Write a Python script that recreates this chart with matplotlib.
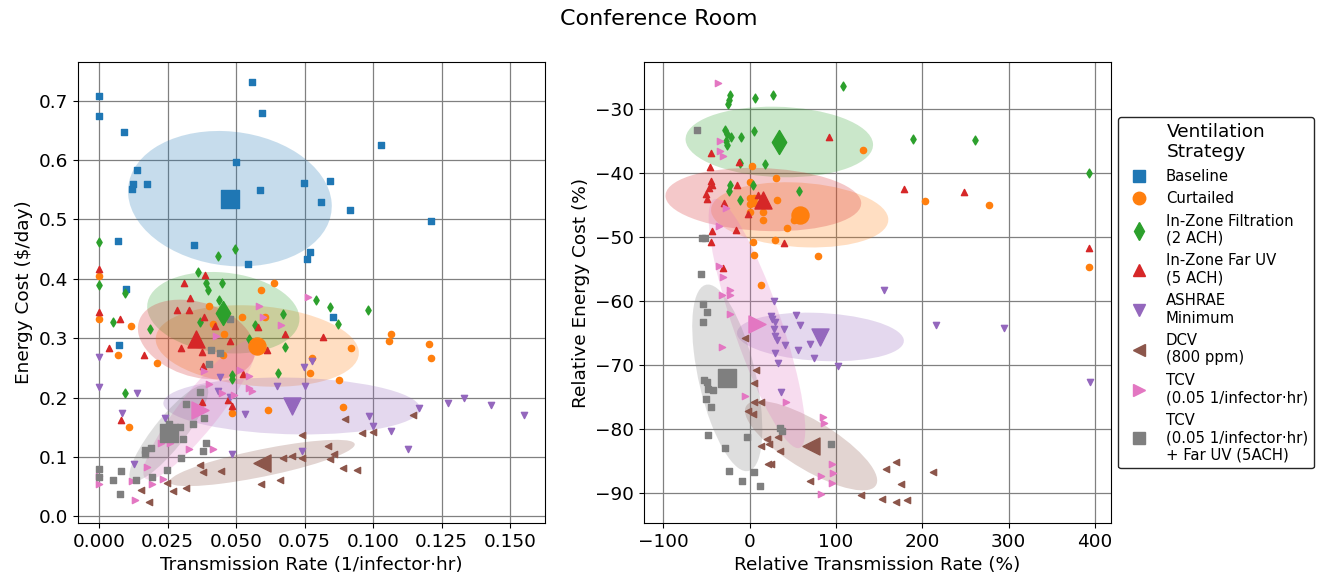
import numpy as np
import matplotlib
matplotlib.use("Agg")
import matplotlib.pyplot as plt
import matplotlib.transforms as transforms
from matplotlib.patches import Ellipse
from matplotlib.lines import Line2D

plt.rcParams["font.family"] = ["DejaVu Sans"]
plt.rcParams["font.size"] = 13.3

# series names / styles
labels = ["Baseline", "Curtailed", "In-Zone Filtration\n(2 ACH)", "In-Zone Far UV\n(5 ACH)",
          "ASHRAE\nMinimum", "DCV\n(800 ppm)", "TCV\n(0.05 1/infector\u00b7hr)",
          "TCV\n(0.05 1/infector\u00b7hr)\n+ Far UV (5ACH)"]
markers = ["s", "o", "d", "^", "v", "<", ">", "s"]
colors = ["tab:blue", "tab:orange", "tab:green", "tab:red", "tab:purple",
          "tab:brown", "tab:pink", "tab:gray"]

# ---- left panel: transmission rate vs energy cost ----
base_x = [0, 0, 0.0089, 0.0556, 0.0593, 0.1027, 0.0498, 0.0138, 0.0122, 0.0118, 0.0173, 0.0588, 0.0747,
          0.0841, 0.0808, 0.0914, 0.121, 0.0067, 0.0346, 0.0544, 0.0769, 0.0760, 0.0099, 0.0854, 0.0072]
base_y = [0.708, 0.675, 0.647, 0.731, 0.679, 0.625, 0.597, 0.583, 0.560, 0.552, 0.559, 0.550, 0.561,
          0.564, 0.529, 0.516, 0.498, 0.464, 0.457, 0.425, 0.446, 0.434, 0.383, 0.335, 0.288]
curt_x = [0, 0, 0.0637, 0.0592, 0.04, 0.0522, 0.0605, 0.0115, 0.0415, 0.0455, 0.1064, 0.1059, 0.1204,
          0.0919, 0.121, 0.0067, 0.0451, 0.0212, 0.0777, 0.0769, 0.0875, 0.0889, 0.0616, 0.0484, 0.0109]
curt_y = [0.405, 0.333, 0.393, 0.381, 0.355, 0.336, 0.336, 0.320, 0.324, 0.308, 0.308, 0.296, 0.290,
          0.284, 0.267, 0.272, 0.271, 0.259, 0.266, 0.241, 0.229, 0.185, 0.180, 0.174, 0.151]
filt_x = [0, 0.0497, 0.0433, 0.036, 0, 0.039, 0.0448, 0.0093, 0.0398, 0.0437, 0.0792, 0.0844, 0.0983,
          0.067, 0.0049, 0.0367, 0.057, 0.087, 0.0185, 0.0545, 0.0678, 0.0652, 0.0483, 0.0483, 0.0093]
filt_y = [0.462, 0.450, 0.438, 0.412, 0.389, 0.393, 0.393, 0.376, 0.381, 0.365, 0.365, 0.352, 0.347,
          0.341, 0.328, 0.328, 0.322, 0.324, 0.316, 0.298, 0.285, 0.241, 0.238, 0.231, 0.208]
uv_x = [0, 0, 0.0385, 0.0309, 0.0332, 0.0285, 0.0326, 0.0384, 0.0074, 0.0422, 0.058, 0.068, 0.0817,
        0.0478, 0.0035, 0.03, 0.0612, 0.0375, 0.0165, 0.0378, 0.0524, 0.0374, 0.0471, 0.0483, 0.0078]
uv_y = [0.417, 0.345, 0.406, 0.393, 0.367, 0.348, 0.348, 0.336, 0.332, 0.320, 0.319, 0.307, 0.302,
        0.296, 0.283, 0.283, 0.280, 0.277, 0.271, 0.254, 0.240, 0.193, 0.196, 0.186, 0.163]
ash_x = [0, 0, 0.0748, 0.0776, 0.0442, 0.0649, 0.0751, 0.0434, 0.0138, 0.0476, 0.0083, 0.0533, 0.0239,
         0.1166, 0.1273, 0.1332, 0.143, 0.1551, 0.0984, 0.1, 0.1067, 0.1126, 0.0486, 0.0742, 0.0126]
ash_y = [0.269, 0.218, 0.251, 0.261, 0.234, 0.220, 0.220, 0.211, 0.208, 0.201, 0.174, 0.173, 0.165,
         0.183, 0.191, 0.199, 0.188, 0.171, 0.169, 0.153, 0.144, 0.113, 0.105, 0.110, 0.089]
dcv_x = [0.0898, 0.1146, 0.0958, 0.0999, 0.0739, 0.0834, 0.0858, 0.0672, 0.0704, 0.0742, 0.0844, 0.089,
         0.0942, 0.0368, 0.0378, 0.0443, 0.0659, 0.0589, 0.0248, 0.0317, 0.0271, 0.0151, 0.018]
dcv_y = [0.164, 0.170, 0.140, 0.142, 0.137, 0.118, 0.105, 0.099, 0.101, 0.099, 0.097, 0.081,
         0.079, 0.086, 0.074, 0.077, 0.062, 0.054, 0.057, 0.048, 0.043, 0.045, 0.025]
tcv_x = [0.0764, 0.0582, 0.0598, 0.0662, 0.0425, 0.0382, 0.0514, 0.0545, 0.04, 0.0545, 0.0559, 0.0449,
         0.0493, 0.0226, 0.0259, 0.0328, 0.0417, 0.0174, 0, 0, 0.0118, 0.0191, 0.0233, 0.0132]
tcv_y = [0.369, 0.354, 0.335, 0.323, 0.304, 0.245, 0.246, 0.236, 0.223, 0.217, 0.212, 0.208,
         0.204, 0.123, 0.123, 0.114, 0.114, 0.084, 0.068, 0.055, 0.059, 0.055, 0.063, 0.028]
tuv_x = [0.0477, 0.0407, 0.0442, 0.0401, 0.0368, 0.0317, 0.0383, 0.0344, 0.0255, 0.0295, 0.0307, 0.0391,
         0.0378, 0.0298, 0.0188, 0.0166, 0.0166, 0.0079, 0, 0, 0.005, 0.0133, 0.0191, 0.0248, 0.0076]
tuv_y = [0.333, 0.281, 0.276, 0.257, 0.209, 0.190, 0.166, 0.155, 0.156, 0.151, 0.130, 0.123,
         0.110, 0.099, 0.115, 0.112, 0.105, 0.077, 0.080, 0.066, 0.062, 0.062, 0.067, 0.078, 0.038]

# means and spread ellipses (half extents + correlation)
mean_x = [0.0477, 0.0577, 0.0453, 0.0355, 0.0703, 0.0595, 0.0368, 0.0254]
mean_y = [0.535, 0.287, 0.343, 0.298, 0.186, 0.090, 0.180, 0.140]
ell_dx = [0.0372, 0.0371, 0.0278, 0.0214, 0.0469, 0.0338, 0.0207, 0.0144]
ell_dy = [0.114, 0.0686, 0.0686, 0.067, 0.0479, 0.039, 0.118, 0.081]
ell_rho = [-0.11, -0.17, -0.15, -0.28, -0.10, 0.80, 0.90, 0.87]

# ---- right panel: relative to baseline (%) ----
curt_rx = [131.6, 3.1, 30.6, 0, 0.4, 4.6, 31.3, 0.8, 4.6, 202.8, 277.1, 0.8, 15.1, 15.1, 51.1, 43.3,
           3.5, 29.8, 4.6, 79.3, 393.6, 13.5]
curt_ry = [-36.4, -38.9, -40.7, -41.4, -43.8, -43.8, -44.1, -44.8, -44.7, -44.4, -44.9, -46.0, -46.1,
           -47.3, -47.3, -48.5, -50.8, -50.5, -52.8, -53.0, -54.7, -57.5]
filt_rx = [-23.2, -24.4, -25.5, 6.2, 27.5, 108.7, -28.6, -26.3, -21.3, -10.4, 4.6, -27.9, -26.3, 189.6,
           260.8, -10.8, 17.4, 393.2, -22.8, 4.3, -24, 56.9, -11.2]
filt_ry = [-27.7, -28.5, -29.2, -28.3, -27.7, -26.3, -33.3, -33.8, -34.3, -34.3, -33.4, -35.0, -35.6,
           -34.7, -34.8, -38.4, -38.5, -39.9, -41.8, -41.9, -42.8, -42.7, -44.2]
uv_rx = [92.1, -44.5, -46.4, -12.8, -44.5, -43.3, -47.6, -15.1, -50.3, -49.5, 9.3, 179.2, 248.5, -30.2,
         -2.3, -43.3, -15.9, -45.3, 39.5, 392.8, -31]
uv_ry = [-34.4, -36.8, -39.0, -38.2, -41.2, -41.8, -42.3, -41.9, -43.3, -44.0, -43.4, -42.4, -42.9,
         -44.6, -46.4, -49.0, -48.8, -50.8, -50.9, -51.7, -54.8]
ash_rx = [156, 27.9, 24.8, 26.3, 29.8, 53.8, 58, 27.9, 39.9, 216.3, 294.5, 29, 31.7, 40.6, 56.1, 70.4,
          29.8, 74.7, 102.2, 32.5, 394.3, 36.8]
ash_ry = [-58.2, -59.9, -62.3, -62.8, -63.2, -62.1, -63.75, -64.4, -64.3, -63.7, -64.2, -65.5, -66.1,
          -66.8, -67.7, -66.7, -68.1, -68.9, -70.1, -69.7, -72.6, -74.2]
dcv_rx = [-5, 7.4, 5.4, 5, 13.2, -2.3, 3.9, 20.1, 22.8, 32.9, 13.2, 35.6, 25.2, 21.3, 169.1, 157.5,
          212.8, 70.4, 175.7, 129.3, 153.6, 169.5, 181.9]
dcv_ry = [-65.8, -70.8, -72.8, -75.7, -75.8, -77.2, -77.6, -81.5, -82.3, -81.2, -82.6, -83.4, -85.4,
          -85.5, -85.1, -86.3, -86.8, -88.1, -88.6, -90.4, -91.0, -91.4, -91.1]
tcv_rx = [-36.8, -34.8, -34.1, -30.6, -27.9, -35.6, -35.6, -30.6, -22.4, -22.4, -32.1, -23.2, -31.7,
          -5, 41.8, 85.1, 86.3, 95.2, 96.4, 82.8, 96, 82.8]
tcv_ry = [-25.8, -34.9, -36.5, -37.3, -45.5, -48.3, -54.5, -56.25, -58.3, -59.0, -59.0, -62.0, -67.2,
          -74.9, -75.7, -78.1, -79.1, -85.4, -86.9, -87.3, -88.5, -90.2]
tuv_rx = [-60.4, -55.3, -51.5, -56.9, -54.2, -49.5, -53.8, -53.4, -49.5, -48, -43, -50.7, -45.3, 35.6,
          37.2, -48, -3.5, -28.3, 94.8, -23.6, 5, -9.3, 12.4]
tuv_ry = [-33.2, -50.1, -50.1, -55.8, -60.5, -61.7, -63.2, -72.4, -72.7, -73.7, -73.9, -75.3, -76.6,
          -79.9, -80.3, -80.9, -81.25, -82.9, -82.4, -86.6, -86.8, -88.2, -88.9]

# baseline has no relative point (it's the reference), so series 1..7 only
rmean_x = [58, 34.4, 15.9, 82, 71.2, 8.5, -25.9]
rmean_y = [-46.5, -35.1, -44.1, -65.6, -82.6, -63.5, -72.0]
rell_dx = [102.7, 108.6, 113.4, 96.7, 76.6, 56, 40.6]
rell_dy = [5.1, 5.52, 4.95, 3.8, 7.0, 19.5, 14.6]
rell_rho = [-0.15, -0.08, -0.12, -0.16, -0.78, -0.85, -0.55]

left_x = [base_x, curt_x, filt_x, uv_x, ash_x, dcv_x, tcv_x, tuv_x]
left_y = [base_y, curt_y, filt_y, uv_y, ash_y, dcv_y, tcv_y, tuv_y]
right_x = [curt_rx, filt_rx, uv_rx, ash_rx, dcv_rx, tcv_rx, tuv_rx]
right_y = [curt_ry, filt_ry, uv_ry, ash_ry, dcv_ry, tcv_ry, tuv_ry]


def add_ellipse(ax, cx, cy, dx, dy, rho, color):
    # unit correlation ellipse, then stretched to the half extents
    ell = Ellipse((0, 0), width=2 * np.sqrt(1 + rho), height=2 * np.sqrt(1 - rho),
                  facecolor=color, edgecolor="none", alpha=0.25, zorder=1)
    tr = transforms.Affine2D().rotate_deg(45).scale(dx, dy).translate(cx, cy)
    ell.set_transform(tr + ax.transData)
    ax.add_patch(ell)


fig = plt.figure(figsize=(13.18, 5.8), dpi=100)
ax1 = fig.add_axes([0.0592, 0.0983, 0.3543, 0.7947])
ax2 = fig.add_axes([0.4886, 0.0983, 0.3543, 0.7947])

for i in range(8):
    add_ellipse(ax1, mean_x[i], mean_y[i], ell_dx[i], ell_dy[i], ell_rho[i], colors[i])
for i in range(8):
    ax1.scatter(left_x[i], left_y[i], s=20, marker=markers[i], color=colors[i], zorder=2)
    ax1.scatter(mean_x[i], mean_y[i], s=150, marker=markers[i], color=colors[i], zorder=3)

for j in range(7):
    add_ellipse(ax2, rmean_x[j], rmean_y[j], rell_dx[j], rell_dy[j], rell_rho[j], colors[j + 1])
for j in range(7):
    ax2.scatter(right_x[j], right_y[j], s=20, marker=markers[j + 1], color=colors[j + 1], zorder=2)
    ax2.scatter(rmean_x[j], rmean_y[j], s=150, marker=markers[j + 1], color=colors[j + 1], zorder=3)

for ax in (ax1, ax2):
    ax.set_axisbelow(True)
    ax.grid(True, color="gray", linewidth=0.9)

ax1.set_xlim(-0.00775, 0.16275)
ax1.set_ylim(-0.011, 0.765)
ax1.set_xticks([0, 0.025, 0.05, 0.075, 0.1, 0.125, 0.15])
ax1.set_xlabel("Transmission Rate (1/infector\u00b7hr)")
ax1.set_ylabel("Energy Cost (\\$/day)")

ax2.set_xlim(-122.4, 418.6)
ax2.set_ylim(-94.7, -22.6)
ax2.set_xlabel("Relative Transmission Rate (%)")
ax2.set_ylabel("Relative Energy Cost (%)")

handles = [Line2D([], [], linestyle="none", marker=markers[i], color=colors[i], markersize=9)
           for i in range(8)]
leg = ax2.legend(handles, labels, title="Ventilation\nStrategy", loc="center left",
                 bbox_to_anchor=(1.0, 0.5), fontsize=10.7, title_fontsize=13.3,
                 framealpha=1, edgecolor="0.15")

fig.suptitle("Conference Room", y=0.968, va="center", fontsize=16)
fig.savefig("out.png", dpi=100)
